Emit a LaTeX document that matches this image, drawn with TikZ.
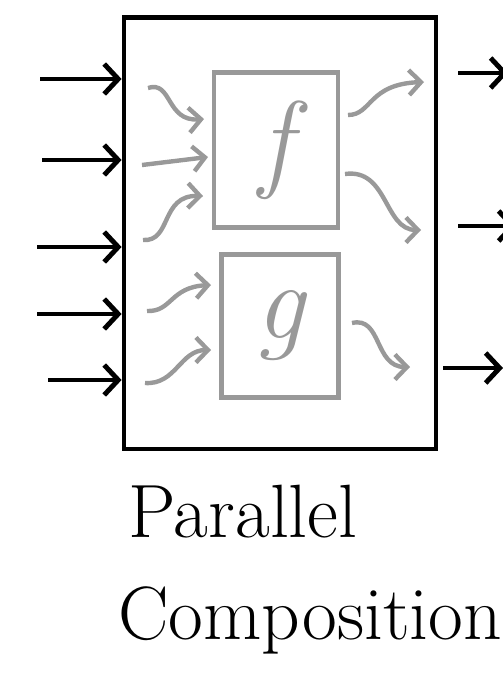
\documentclass[tikz,border=0pt]{standalone}
\usepackage{fontspec}
\usepackage{tikz,xcolor}
\usetikzlibrary{arrows.meta}

\definecolor{pencil}{gray}{0.6}
\tikzset{
  blk/.style={black,line width=2.8pt},
  gry/.style={pencil,line width=2.5pt},
  inarr/.style={blk,-{Straight Barb[length=2.8mm,width=6mm]}},
  grarr/.style={gry,-{Straight Barb[length=2.4mm,width=5mm]}},
  funbox/.style={draw,gry,text=pencil,inner sep=0pt,font=\fontsize{62}{62}\selectfont\itshape},
  words/.style={anchor=west,inner sep=0pt,font=\fontsize{43}{43}\selectfont}
}

\begin{document}
\begin{tikzpicture}[x=0.02cm,y=-0.02cm]
\useasboundingbox (0,0) rectangle (503,683);

\node[draw,blk,minimum width=6.24cm,minimum height=8.64cm] (par) at (280,233) {};
\node[funbox,minimum width=2.48cm,minimum height=3.1cm] (f) at (276,150) {f};
\node[funbox,minimum width=2.34cm,minimum height=2.86cm] (g) at (280,326) {g};

% inputs from outside
\coordinate (in1) at (40,79);
\coordinate (in2) at (42,160);
\coordinate (in3) at (37,247);
\coordinate (in4) at (37,314);
\coordinate (in5) at (48,380);
\foreach \i in {1,...,5}
  \draw[inarr] (in\i) -- (in\i -| par.west);

% outputs to outside
\coordinate (out1a) at (458,73);  \coordinate (out1b) at (508,73);
\coordinate (out2a) at (458,226); \coordinate (out2b) at (516,226);
\coordinate (out3a) at (443,368); \coordinate (out3b) at (503,368);
\foreach \i in {1,2,3}
  \draw[inarr] (out\i a) -- (out\i b);

% wires into f and g
\coordinate (fa0) at (148,88);  \coordinate (fa1) at (204,119);
\coordinate (fb0) at (142,165); \coordinate (fb1) at (208,157);
\coordinate (fc0) at (143,240); \coordinate (fc1) at (203,196);
\coordinate (ga0) at (147,311); \coordinate (ga1) at (211,285);
\coordinate (gb0) at (145,383); \coordinate (gb1) at (211,350);
\draw[grarr] (fa0) .. controls (172,80) and (166,122) .. (fa1);
\draw[grarr] (fb0) -- (fb1);
\draw[grarr] (fc0) .. controls (172,242) and (160,195) .. (fc1);
\draw[grarr] (ga0) .. controls (172,312) and (170,287) .. (ga1);
\draw[grarr] (gb0) .. controls (176,385) and (180,350) .. (gb1);

% wires out of f and g
\coordinate (fo1a) at (348,115); \coordinate (fo1b) at (424,82);
\coordinate (fo2a) at (345,174); \coordinate (fo2b) at (421,230);
\coordinate (go1a) at (352,323); \coordinate (go1b) at (410,367);
\draw[grarr] (fo1a) .. controls (372,115) and (368,84) .. (fo1b);
\draw[grarr] (fo2a) .. controls (388,168) and (384,230) .. (fo2b);
\draw[grarr] (go1a) .. controls (382,316) and (374,367) .. (go1b);

\node[words] (t1) at (128,512) {Parallel};
\node[words] (t2) at (118,620) {Composition};
\end{tikzpicture}
\end{document}
